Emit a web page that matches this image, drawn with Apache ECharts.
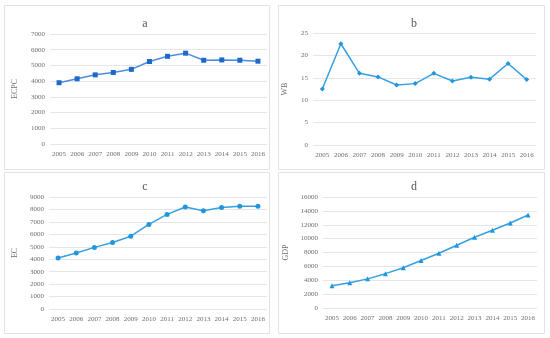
<!DOCTYPE html>
<html><head><meta charset="utf-8">
<script src="https://cdn.jsdelivr.net/npm/echarts@6/dist/echarts.min.js"></script>
<style>html,body{margin:0;padding:0;background:#fff}#c{width:550px;height:338px}</style>
</head><body><div id="c"></div>
<script>
const years = ['2005','2006','2007','2008','2009','2010','2011','2012','2013','2014','2015','2016'];
const ecpc = [3900,4150,4400,4550,4750,5250,5580,5780,5330,5350,5330,5270];
const wb = [12.5,22.6,16.0,15.2,13.4,13.7,16.0,14.3,15.1,14.7,18.2,14.6];
const ec = [4100,4500,4950,5350,5850,6800,7600,8200,7900,8150,8250,8250];
const gdp = [3200,3650,4200,4950,5800,6850,7900,9050,10200,11200,12250,13400];
const titles = ['a','b','c','d'];
const yNames = ['ECPC','WB','EC','GDP'];

const chart = echarts.init(document.getElementById('c'), null, {renderer:'canvas'});
const font = 'Liberation Serif';
const txt = '#6e6e6e';
const grids = [
  {left:50, top:34, width:217, height:110},
  {left:313, top:33, width:223, height:112},
  {left:49, top:197, width:218, height:112},
  {left:323, top:197, width:214, height:111}
];
const yCfg = [
  {max:7000, interval:1000, gap:31},
  {max:25, interval:5, gap:24},
  {max:9000, interval:1000, gap:30},
  {max:16000, interval:2000, gap:33}
];
const datas = [ecpc, wb, ec, gdp];
const symbols = ['rect','diamond','circle','triangle'];
const lineColors = ['#4a8fde','#35a0e2','#35a0e2','#35a0e2'];
const markColors = ['#1d68c9','#2196dc','#2196dc','#2196dc'];
const titlePos = [[140,13],[409,13],[140,176],[409,176]];
const boxes = [[4,5,265,164],[278,5,266,164],[4,172,265,161],[278,172,266,161]];

const option = {
  animation:false,
  backgroundColor:'#fff',
  graphic: boxes.map(b=>({type:'rect', shape:{x:b[0]+0.5,y:b[1]+0.5,width:b[2],height:b[3]}, style:{fill:'none',stroke:'#e2e2e2',lineWidth:1}, silent:true})),
  title: titles.map((t,i)=>({text:t, left:titlePos[i][0], top:titlePos[i][1], textAlign:'center',
    textStyle:{fontFamily:font, fontSize:12, fontWeight:'normal', color:'#595959'}})),
  grid: grids,
  xAxis: grids.map((g,i)=>({type:'category', gridIndex:i, data:years, boundaryGap:true,
    axisLine:{show:false}, axisTick:{show:false},
    axisLabel:{fontFamily:font, fontSize:7, color:txt, margin:7, interval:0}})),
  yAxis: yCfg.map((c,i)=>({type:'value', gridIndex:i, min:0, max:c.max, interval:c.interval,
    name:yNames[i], nameLocation:'middle', nameGap:c.gap, nameRotate:90,
    nameTextStyle:{fontFamily:font, fontSize:8, color:txt},
    axisLine:{show:false}, axisTick:{show:false},
    axisLabel:{fontFamily:font, fontSize:7, color:txt, margin:5, formatter:v=>String(v)},
    splitLine:{lineStyle:{color:'#e6e6e6', width:1}}})),
  series: datas.map((d,i)=>({type:'line', xAxisIndex:i, yAxisIndex:i, data:d,
    symbol:symbols[i], symbolSize:5, showAllSymbol:true,
    lineStyle:{color:lineColors[i], width:1.5},
    itemStyle:{color:markColors[i]}}))
};
chart.setOption(option);
</script></body></html>
